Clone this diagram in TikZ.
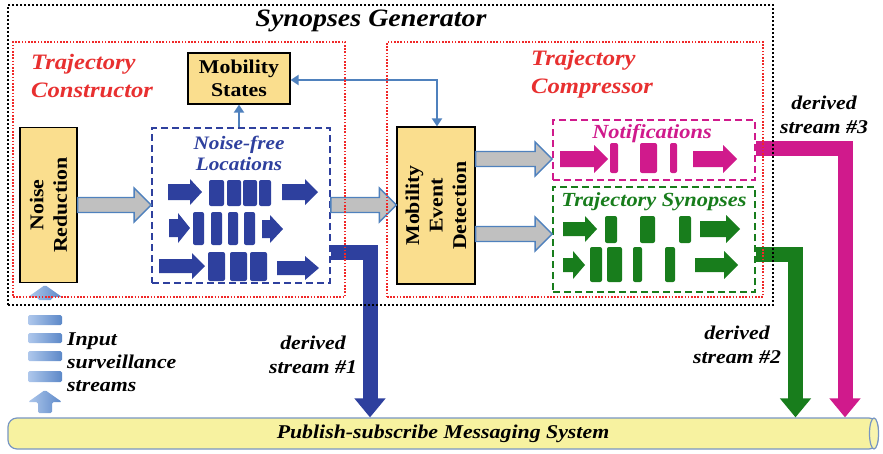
\documentclass[tikz,border=0pt]{standalone}
\usepackage{fontspec}
\setmainfont{Liberation Serif}[FakeStretch=1.12]
\usetikzlibrary{arrows.meta,calc}
\definecolor{boxyellow}{RGB}{250,222,142}
\definecolor{dblue}{RGB}{46,64,158}
\definecolor{dmag}{RGB}{208,26,140}
\definecolor{dgreen}{RGB}{24,125,28}
\definecolor{lblue}{RGB}{79,129,189}
\definecolor{gfill}{RGB}{192,192,192}
\definecolor{pipefill}{RGB}{247,242,160}
\definecolor{pipeedge}{RGB}{120,150,195}
\definecolor{dotred}{RGB}{240,40,40}
\definecolor{titlered}{RGB}{232,48,48}
\definecolor{inlight}{RGB}{175,200,236}
\definecolor{indark}{RGB}{92,136,200}
% fat arrow polygon: x1,x2,yc,shaft half,head half,head length,colour
\newcommand\fatarr[7]{\fill[#7] (#1,#3-#4) -- (#2-#6,#3-#4) -- (#2-#6,#3-#5) -- (#2,#3) -- (#2-#6,#3+#5) -- (#2-#6,#3+#4) -- (#1,#3+#4) -- cycle;}
% rounded block: x1,x2,y1,y2,colour
\newcommand\blk[5]{\fill[#5,rounded corners=2pt] (#1,#3) rectangle (#2,#4);}
% grey block-arrow connector between two nodes at height #3
\newcommand\gconn[3]{\path[garrow] let \p1=(#1 |- 0,#3), \p2=(#2 |- 0,#3) in
 (\x1,\y1-7.5pt) -- (\x2-17pt,\y1-7.5pt) -- (\x2-17pt,\y1-17pt) -- (\x2,\y1) -- (\x2-17pt,\y1+17pt) -- (\x2-17pt,\y1+7.5pt) -- (\x1,\y1+7.5pt) -- cycle;}
\begin{document}
\begin{tikzpicture}[x=1pt,y=-1pt,
  ybox/.style={draw=black, line width=1.2pt, fill=boxyellow, inner sep=0pt},
  boxtext/.style={font=\fontsize{19.5}{23.5}\selectfont\bfseries, align=center, inner sep=0pt},
  bi/.style={font=\fontsize{#1}{#1}\selectfont\bfseries\itshape},
  garrow/.style={fill=gfill, draw=lblue, line width=1.4pt, line join=miter},
  dashbox/.style={draw=#1, line width=1.8pt, dash pattern=on 7pt off 4pt, inner sep=0pt},
  blackdots/.style={draw=black, line width=2.6pt, dash pattern=on 2pt off 2pt},
  reddots/.style={draw=dotred, line width=2pt, dash pattern=on 1.6pt off 1.6pt},
  stream/.style={draw=#1, line width=15pt, line join=miter, -{Triangle[length=19pt,width=30pt]}},
  thinblue/.style={draw=lblue, line width=2pt},
  inbar/.style={left color=inlight, right color=indark, rounded corners=1.5pt},
  sidetext/.style={font=\fontsize{19.5}{24}\selectfont\bfseries\itshape, inner sep=0pt}
]
\useasboundingbox (0,0) rectangle (883,453);
\fill[white] (0,0) rectangle (883,453);

% ---------- main nodes ----------
\node[ybox, minimum width=102pt, minimum height=51pt] (ms) at (239,78.5) {};
\node[boxtext] (mslabel) at (ms.center) {Mobility\\States};
\node[ybox, minimum width=57pt, minimum height=155pt] (nr) at (48.5,205) {};
\node[boxtext, rotate=90] (nrlabel) at (nr.center) {Noise\\Reduction};
\node[ybox, minimum width=78pt, minimum height=157pt] (med) at (436,205.5) {};
\node[boxtext, rotate=90] (medlabel) at (med.center) {Mobility\\Event\\Detection};

\node[dashbox=dblue, minimum width=178pt, minimum height=155pt] (nf) at (241,205.5) {};
\node[text=dblue, align=center, font=\fontsize{19}{21}\selectfont\bfseries\itshape] (nflabel) at (239,153.5) {Noise-free\\Locations};
\node[dashbox=dmag, minimum width=202pt, minimum height=60pt] (notif) at (654,150) {};
\node[bi=20, text=dmag] (notiflabel) at (652,134) {Notifications};
\node[dashbox=dgreen, minimum width=202pt, minimum height=105pt] (syn) at (654,239.5) {};
\node[bi=20, text=dgreen] (synlabel) at (654,202) {Trajectory Synopses};

% pipe
\node[draw=pipeedge, fill=pipefill, line width=1.2pt, rounded corners=9pt, minimum width=870pt, minimum height=31pt, inner sep=0pt,
      font=\fontsize{19.5}{19.5}\selectfont\bfseries\itshape] (pipe) at (443,433.5) {Publish-subscribe Messaging System};
\draw[pipeedge, line width=1.2pt, fill=pipefill!85!white] (874,433.5) ellipse [x radius=4.5pt, y radius=15.5pt];

% ---------- blocks inside Noise-free Locations ----------
\fatarr{168}{202}{192}{8}{13}{12}{dblue}
\blk{209}{224}{180}{206}{dblue}\blk{227}{241}{180}{206}{dblue}\blk{243}{257}{180}{206}{dblue}\blk{259}{271}{180}{206}{dblue}
\fatarr{282}{318}{192}{8}{13}{13}{dblue}
\fatarr{169}{190}{228}{9}{15}{12}{dblue}
\blk{193}{204}{212}{245}{dblue}\blk{211}{222}{212}{245}{dblue}\blk{228}{238}{212}{245}{dblue}\blk{244}{255}{212}{245}{dblue}
\fatarr{262}{283}{229}{9}{14}{13}{dblue}
\fatarr{159}{205}{266}{7}{13}{13}{dblue}
\blk{208}{225}{252}{281}{dblue}\blk{230}{247}{252}{281}{dblue}\blk{250}{267}{252}{281}{dblue}
\fatarr{277}{319}{268}{7}{12}{14}{dblue}

% ---------- notifications ----------
\fatarr{560}{608}{159}{8}{14}{14}{dmag}
\blk{610}{618}{143}{173}{dmag}\blk{640}{657}{143}{173}{dmag}\blk{670}{677}{143}{173}{dmag}
\fatarr{693}{737}{159}{8}{14}{14}{dmag}

% ---------- trajectory synopses ----------
\fatarr{563}{597}{229}{7}{13}{12}{dgreen}
\blk{605}{617}{216}{243}{dgreen}\blk{640}{655}{216}{243}{dgreen}\blk{679}{691}{216}{243}{dgreen}
\fatarr{700}{740}{229}{8}{14}{14}{dgreen}
\fatarr{563}{585}{265}{7}{14}{12}{dgreen}
\blk{590}{602}{247}{282}{dgreen}\blk{607}{622}{247}{282}{dgreen}\blk{633}{642}{247}{282}{dgreen}\blk{665}{675}{247}{282}{dgreen}
\fatarr{695}{738}{265}{7}{14}{14}{dgreen}

% ---------- connectors ----------
\gconn{nr.east}{nf.west}{205}
\gconn{nf.east}{med.west}{205}
\gconn{med.east}{notif.west}{159}
\gconn{med.east}{syn.west}{234}
\draw[thinblue, {Triangle[length=8pt,width=10pt]}-{Triangle[length=8pt,width=10pt]}] (ms.east |- 0,80) -| (med.north -| 437,0);
\draw[thinblue, -{Triangle[length=8pt,width=10pt]}] (ms.south |- nf.north) -- (ms.south);

\draw[stream=dblue] (nf.east |- 0,252.5) -| (pipe.north -| 370,0);
\draw[stream=dgreen] (syn.east |- 0,254.5) -| (pipe.north -| 795.5,0);
\draw[stream=dmag] (notif.east |- 0,148.5) -| (pipe.north -| 845,0);

% ---------- input streams ----------
\path[inbar] (38,300) -- (38,297) -- (28,297) -- (45,285) -- (62,297) -- (52,297) -- (52,300) -- cycle;
\path[inbar] (28,315) rectangle (62,325);
\path[inbar] (28,333) rectangle (62,343);
\path[inbar] (28,351) rectangle (62,361);
\path[inbar] (28,371) rectangle (62,382);
\path[inbar] (38,413) -- (38,402) -- (28,402) -- (45,390) -- (62,402) -- (52,402) -- (52,413) -- cycle;

% ---------- frames ----------
\node[blackdots, minimum width=765pt, minimum height=300pt, inner sep=0pt] (sg) at (390.5,155) {};
\node[reddots, minimum width=332pt, minimum height=255pt, inner sep=0pt] (tc) at (179,169.5) {};
\node[reddots, minimum width=376pt, minimum height=255pt, inner sep=0pt] (tcomp) at (575,169.5) {};

% ---------- labels ----------
\node[font=\fontsize{25}{25}\selectfont\bfseries\itshape, inner sep=1pt] (sglabel) at (371,21) {Synopses Generator};
\node[font=\fontsize{22}{28}\selectfont\bfseries\itshape, text=titlered, align=left, anchor=west, inner sep=0pt] (tclabel) at (31,76) {Trajectory\\Constructor};
\node[font=\fontsize{22}{28}\selectfont\bfseries\itshape, text=titlered, align=left, anchor=west, inner sep=0pt] (tcomplabel) at (531,74) {Trajectory\\Compressor};
\node[sidetext, align=left, anchor=west, font=\fontsize{19.5}{23}\selectfont\bfseries\itshape] (inlabel) at (67,362) {Input\\surveillance\\streams};
\node[sidetext, align=center] (d1) at (313,355) {derived\\stream \#1};
\node[sidetext, align=center] (d2) at (737,345) {derived\\stream \#2};
\node[sidetext, align=center] (d3) at (824,115) {derived\\stream \#3};
\end{tikzpicture}
\end{document}
